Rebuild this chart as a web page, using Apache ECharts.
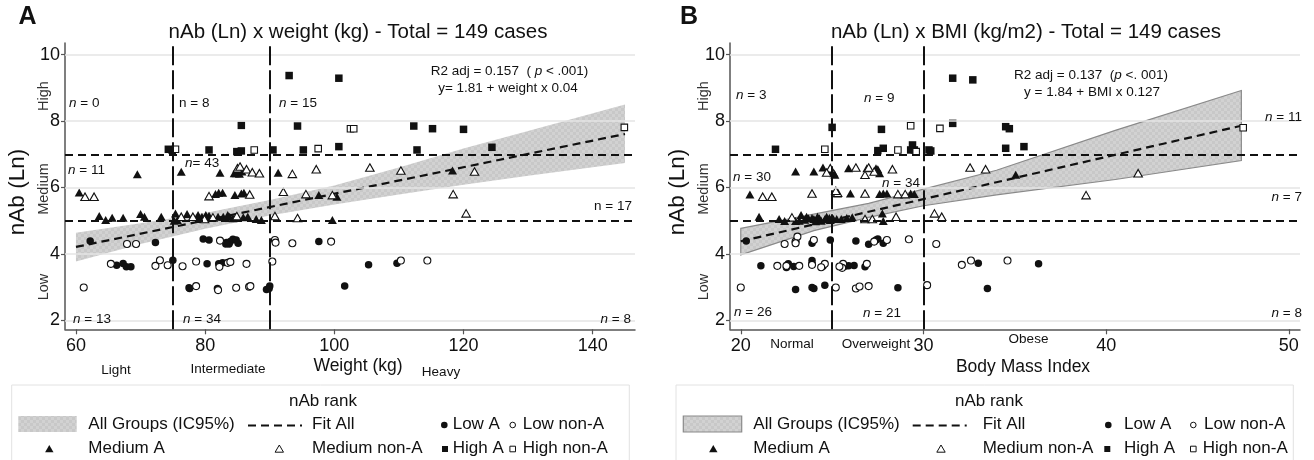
<!DOCTYPE html>
<html>
<head>
<meta charset="utf-8">
<script src="https://cdn.jsdelivr.net/npm/echarts@6/dist/echarts.min.js"></script>
<style>
html,body{margin:0;padding:0;background:#fff;}
#chart{width:1314px;height:460px;}
</style>
</head>
<body>
<div id="chart"></div>
<script>
// ---------------- DATA ----------------
// Panel A: nAb (Ln) vs weight (kg)
const weightTicks = [60, 80, 100, 120, 140];
const nAbTicks = [2, 4, 6, 8, 10];
const weightCuts = [75, 90];
const nAbCuts = [5, 7];

const weightLowA = [[62.2,4.39],[66.3,3.66],[67.3,3.71],[67.8,3.61],[68.5,3.61],[72.3,4.34],
  [75.0,3.81],[77.5,2.98],[77.6,2.96],[79.7,4.45],[80.6,4.42],[80.3,3.70],[81.9,2.96],[82.1,3.70],
  [82.7,3.73],[83.3,4.34],[83.7,4.30],[83.9,4.37],[84.3,4.44],[84.8,4.42],[83.2,4.30],[85.1,4.32],
  [89.5,2.93],[89.9,2.96],[90.0,3.03],[97.6,4.37],[101.6,3.03],[105.3,3.67],[109.7,3.72]];
const weightLowNonA = [[61.2,2.99],[65.4,3.70],[67.9,4.30],[69.3,4.30],[72.3,3.64],[73.0,3.81],[74.2,3.66],
  [76.5,3.63],[78.6,3.03],[78.6,3.77],[82.0,2.91],[82.3,4.40],[82.2,3.61],[83.5,3.73],[83.9,3.76],
  [84.8,2.98],[86.4,3.70],[86.8,3.01],[87.0,3.03],[90.4,3.77],[90.8,4.42],[90.9,4.34],
  [93.5,4.32],[99.5,4.37],[110.3,3.80],[114.4,3.80]];
const weightMedA = [[60.5,5.85],[63.6,5.14],[64.6,5.02],[65.6,5.09],[67.3,5.09],[69.5,6.40],[70.0,5.20],[70.6,5.12],[73.2,5.12],
  [75.4,5.22],[76.3,6.47],[77.2,5.20],[78.9,5.17],[79.5,5.12],[80.1,5.17],[80.6,5.15],[81.6,5.80],[82.1,5.84],
  [82.7,5.84],[82.3,6.44],[82.0,5.12],[82.8,5.12],[83.8,5.12],[84.3,5.07],[84.5,6.43],[84.8,6.43],[85.2,6.53],
  [85.6,5.82],[86.0,5.84],[85.9,5.10],[88.7,5.02],[85.3,6.41],[75.7,5.02],[75.2,5.00],[83.5,5.17],[86.6,5.12],
  [79.1,5.05],[87.9,5.05],[85.7,6.48],[84.6,5.77],
  [91.3,6.44],[97.6,5.77],[100.4,5.72],[99.7,5.02],[118.3,6.51]];
const weightMedNonA = [[61.4,5.72],[62.8,5.72],
  [76.3,5.12],[78.1,5.12],[80.6,5.74],[85.0,6.58],[85.4,6.63],[86.9,5.79],[86.4,6.55],[87.3,6.46],[88.4,6.43],
  [84.9,5.14],[81.2,5.10],[79.9,5.05],
  [93.5,6.41],[97.2,6.55],[90.8,5.14],[92.1,5.87],[94.3,5.08],[95.6,5.80],[99.7,5.77],[105.5,6.60],
  [110.3,6.51],[121.7,6.48],[118.4,5.80],[120.4,5.22]];
const weightHighA = [[74.3,7.15],[74.9,7.12],[80.6,7.13],[85.6,7.87],[84.9,7.08],[85.6,7.10],[90.5,7.13],
  [93.0,9.37],[94.3,7.85],[95.2,7.13],[100.7,9.29],[100.7,7.23],[112.3,7.85],[115.2,7.77],[120.0,7.75],
  [112.8,7.13],[124.4,7.21]];
const weightHighNonA = [[75.4,7.15],[87.6,7.13],[97.5,7.17],[102.5,7.77],[103.0,7.77],[144.9,7.81]];
const weightFit = [[60,4.21],[145,7.61]];
const weightBandX = [60, 70, 80, 90, 100, 110, 120, 130, 145];
const weightBandUp = [4.64, 4.92, 5.23, 5.62, 6.06, 6.60, 7.17, 7.70, 8.50];
const weightBandLo = [3.77, 4.30, 4.76, 5.16, 5.49, 5.79, 6.08, 6.35, 6.74];

// Panel B: nAb (Ln) vs BMI
const bmiTicks = [20, 30, 40, 50];
const bmiCuts = [25, 30];
const bmiLowA = [[20.3,4.39],[21.1,3.64],[22.5,3.59],[22.6,3.70],[23.0,2.93],[23.9,4.32],[23.9,3.80],[23.9,3.70],
  [23.9,2.99],[24.0,2.96],[24.5,3.63],[24.6,3.06],[24.9,4.42],[22.9,3.62],
  [25.7,3.63],[25.9,3.64],[26.3,4.39],[26.8,3.61],[27.0,4.29],[27.4,4.42],[27.5,4.45],[27.8,4.32],[28.6,2.98],[26.2,3.65],
  [33.0,3.72],[33.5,2.96],[36.3,3.70]];
const bmiLowNonA = [[20.0,2.99],[22.0,3.64],[22.4,4.30],[23.0,4.37],[23.1,4.52],[23.0,4.32],[23.2,3.64],[24.0,4.42],
  [23.9,3.67],[24.6,3.70],[22.5,3.64],[24.4,3.60],
  [25.2,2.99],[25.6,3.70],[25.55,3.58],[26.3,2.96],[26.9,3.70],[27.0,3.03],[27.3,4.37],[28.0,4.42],[29.2,4.44],
  [25.4,3.62],[26.5,3.02],
  [30.2,3.06],[30.7,4.30],[32.1,3.67],[32.6,3.80],[34.6,3.80]];
const bmiMedA = [[20.5,5.79],[21.0,5.12],[22.1,5.05],[22.4,4.99],[23.0,4.99],[23.3,5.17],[23.7,5.07],[24.0,5.05],
  [24.2,5.12],[24.3,5.07],[24.7,5.12],[24.9,5.02],[23.0,6.48],[24.0,6.48],[24.5,6.60],[24.8,6.48],[23.5,5.03],
  [23.9,5.08],[24.1,4.98],[24.4,5.00],[24.6,5.04],[23.6,5.12],[24.85,5.08],[23.2,5.00],
  [25.1,6.43],[25.9,6.58],[26.9,6.58],[27.4,6.58],[27.5,6.55],[27.6,6.43],[26.0,5.82],[25.3,5.82],[27.8,5.82],
  [28.0,5.82],[29.3,5.82],[29.5,5.80],[25.07,5.05],[25.25,5.05],[25.5,5.05],[25.8,5.08],[27.75,5.22],[27.8,4.99],
  [25.15,6.38],[26.1,5.10],[27.6,5.80],
  [35.05,6.38]];
const bmiMedNonA = [[21.2,5.72],[21.7,5.72],[24.9,6.58],[23.9,5.82],[22.8,5.10],[24.7,6.45],
  [25.3,5.84],[26.3,6.60],[26.8,6.38],[27.3,6.48],[28.3,6.55],[26.8,5.82],[28.6,5.80],[29.0,5.80],[26.8,5.05],
  [27.2,5.05],[28.5,5.12],[25.2,5.90],[27.0,6.60],
  [30.6,5.22],[31.0,5.12],[32.55,6.60],[33.4,6.55],[38.9,5.77],[41.75,6.43]];
const bmiHighA = [[21.9,7.15],[25.0,7.81],[27.7,7.75],[27.5,7.11],[27.8,7.18],[29.4,7.28],[29.3,7.13],[29.5,7.13],
  [30.3,7.13],[30.4,7.10],[31.6,9.29],[32.7,9.24],[31.6,7.93],[34.5,7.83],[34.7,7.77],[34.5,7.18],[35.5,7.23]];
const bmiHighNonA = [[24.6,7.15],[29.3,7.86],[28.6,7.13],[29.6,7.08],[30.9,7.78],[47.5,7.80]];
const bmiFit = [[20,4.38],[47.4,7.86]];
const bmiBandX = [20, 24, 27, 30, 34, 40.5, 47.4];
const bmiBandUp = [4.77, 5.20, 5.52, 5.95, 6.52, 7.72, 8.92];
const bmiBandLo = [3.97, 4.70, 5.10, 5.45, 5.78, 6.24, 6.81];

// ---------------- STYLE ----------------
const FF = "'Liberation Sans', Arial, Helvetica, sans-serif";
const INK = '#111';

function makePattern() {
  const c = document.createElement('canvas');
  c.width = 6; c.height = 6;
  const g = c.getContext('2d');
  g.fillStyle = '#c8c8c8'; g.fillRect(0, 0, 6, 6);
  g.fillStyle = '#d2d2d2'; g.fillRect(0, 0, 3, 3); g.fillRect(3, 3, 3, 3);
  return c;
}
const patternCanvas = makePattern();
const bandFill = { image: patternCanvas, repeat: 'repeat' };

const chart = echarts.init(document.getElementById('chart'), null, { renderer: 'canvas' });

function xAxisDef(idx, min, max, ticks) {
  return {
    gridIndex: idx, type: 'value', min: min, max: max,
    axisLine: { show: true, onZero: false, lineStyle: { color: '#555', width: 1.5 } },
    axisTick: { show: true, customValues: ticks, length: 5, lineStyle: { color: '#555', width: 1.2 } },
    axisLabel: { customValues: ticks, fontSize: 18, color: INK, fontFamily: FF, margin: 8 },
    splitLine: { show: false }
  };
}
function yAxisDef(idx) {
  return {
    gridIndex: idx, type: 'value', min: 1.73, max: 10.35,
    axisLine: { show: true, onZero: false, lineStyle: { color: '#555', width: 1.5 } },
    axisTick: { show: true, customValues: nAbTicks, length: 4, lineStyle: { color: '#555', width: 1.2 } },
    axisLabel: { customValues: nAbTicks, fontSize: 18, color: INK, fontFamily: FF, margin: 5 },
    splitLine: { show: false }
  };
}

function bandSeries(idx, bx, bu, bl, stroke) {
  return {
    type: 'custom', xAxisIndex: idx, yAxisIndex: idx, z: 1, silent: true,
    data: [[bx[0], bu[0]]],
    renderItem: function (params, api) {
      const pts = [];
      for (let i = 0; i < bx.length; i++) pts.push(api.coord([bx[i], bu[i]]));
      for (let i = bx.length - 1; i >= 0; i--) pts.push(api.coord([bx[i], bl[i]]));
      return {
        type: 'polygon', shape: { points: pts },
        style: { fill: bandFill, stroke: stroke || null, lineWidth: stroke ? 1.2 : 0 }
      };
    }
  };
}

function gridLineSeries(idx, fit) {
  return {
    type: 'line', xAxisIndex: idx, yAxisIndex: idx, z: 0, silent: true,
    data: fit, showSymbol: false, lineStyle: { width: 0, opacity: 0 },
    markLine: {
      silent: true, symbol: ['none', 'none'], animation: false, label: { show: false },
      lineStyle: { color: '#e4e4e4', width: 1.5, type: 'solid' },
      data: nAbTicks.map(v => ({ yAxis: v }))
    }
  };
}

function refLineSeries(idx, fit, xcuts) {
  const data = nAbCuts.map(v => ({ yAxis: v, lineStyle: { color: INK, width: 2, type: [8, 5] } }))
    .concat(xcuts.map(v => ({ xAxis: v, lineStyle: { color: INK, width: 2, type: [19, 5] } })));
  return {
    type: 'line', xAxisIndex: idx, yAxisIndex: idx, z: 2, silent: true,
    data: fit, showSymbol: false, lineStyle: { width: 0, opacity: 0 },
    markLine: { silent: true, symbol: ['none', 'none'], animation: false, label: { show: false }, data: data }
  };
}

function fitSeries(idx, fit) {
  return {
    type: 'line', xAxisIndex: idx, yAxisIndex: idx, z: 3, silent: true,
    data: fit, showSymbol: false, symbol: 'none',
    lineStyle: { color: INK, width: 2.2, type: [8, 5] }
  };
}

function pointSeries(idx, data, symbol, size, open) {
  return {
    type: 'scatter', xAxisIndex: idx, yAxisIndex: idx, z: 4, silent: true,
    data: data, symbol: symbol, symbolSize: size,
    itemStyle: open ? { color: '#fff', borderColor: INK, borderWidth: 1.1, opacity: 1 }
                    : { color: INK, opacity: 1 }
  };
}

function panelSeries(idx, d) {
  return [
    gridLineSeries(idx, d.fit),
    bandSeries(idx, d.bx, d.bu, d.bl, d.bandStroke),
    refLineSeries(idx, d.fit, d.xcuts),
    fitSeries(idx, d.fit),
    pointSeries(idx, d.lowA, 'circle', 7.5, false),
    pointSeries(idx, d.lowN, 'circle', 7, true),
    pointSeries(idx, d.medA, 'triangle', [9, 8], false),
    pointSeries(idx, d.medN, 'triangle', [8.5, 7.5], true),
    pointSeries(idx, d.highA, 'rect', 7.5, false),
    pointSeries(idx, d.highN, 'rect', 6.5, true)
  ];
}

// ---------------- TEXT HELPERS ----------------
function tok(size, italic, weight, color) {
  return { fontSize: size, fontFamily: FF, fontStyle: italic ? 'italic' : 'normal',
           fontWeight: weight || 'normal', fill: color || INK, color: color || INK };
}
function txt(x, y, text, size, opts) {
  opts = opts || {};
  const al = opts.align || 'left';
  return {
    type: 'text', x: x, y: y, rotation: opts.rotation || 0, silent: true, z: 100,
    style: {
      text: text, x: 0, y: 0,
      fontSize: size, fontFamily: FF, fontWeight: opts.weight || 'normal',
      fontStyle: opts.italic ? 'italic' : 'normal',
      fill: opts.color || INK,
      align: al, textAlign: al, verticalAlign: 'middle', textVerticalAlign: 'middle',
      rich: { i: tok(size, true, null, opts.color), r: tok(size, false, null, opts.color) }
    }
  };
}
function nLab(x, y, rest, italicN, align) {
  const t = (italicN ? '{i|n}' : '{r|n}') + '{r|' + rest + '}';
  return txt(x, y, t, 13.5, { align: align || 'left' });
}

// legend block
function legend(L) {
  const g = [];
  g.push({ type: 'rect', silent: true, z: 90, shape: { x: L.boxL, y: 385, width: L.boxR - L.boxL, height: 80 },
           style: { fill: '#fff', stroke: '#e2e2e2', lineWidth: 1 } });
  g.push(txt(L.title, 401, 'nAb rank', 17, { align: 'center' }));
  const r1 = 424, r2 = 448;
  g.push({ type: 'rect', silent: true, z: 100, shape: { x: L.rect[0], y: 416, width: L.rect[1] - L.rect[0], height: 16 },
           style: { fill: bandFill, stroke: L.rectStroke || null, lineWidth: L.rectStroke ? 1.2 : 0 } });
  g.push(txt(L.t1, r1, 'All Groups (IC95%)', 17));
  g.push({ type: 'line', silent: true, z: 100, shape: { x1: L.dash[0], y1: r1 + 1.5, x2: L.dash[1], y2: r1 + 1.5 },
           style: { stroke: INK, lineWidth: 2, lineDash: [8, 5] } });
  g.push(txt(L.t2, r1, 'Fit All', 17));
  g.push({ type: 'circle', silent: true, z: 100, shape: { cx: L.c1, cy: r1 + 1, r: 3.3 }, style: { fill: INK } });
  g.push(txt(L.t3, r1, 'Low A', 17));
  g.push({ type: 'circle', silent: true, z: 100, shape: { cx: L.c2, cy: r1 + 1, r: 2.8 },
           style: { fill: '#fff', stroke: INK, lineWidth: 1 } });
  g.push(txt(L.t4, r1, 'Low non-A', 17));
  const tri = (cx, cy) => [[cx, cy - 4], [cx + 4.2, cy + 3.2], [cx - 4.2, cy + 3.2]];
  g.push({ type: 'polygon', silent: true, z: 100, shape: { points: tri(L.tr1, r2 + 1) }, style: { fill: INK } });
  g.push(txt(L.t1, r2, 'Medium A', 17));
  g.push({ type: 'polygon', silent: true, z: 100, shape: { points: tri(L.tr2, r2 + 1) },
           style: { fill: '#fff', stroke: INK, lineWidth: 1 } });
  g.push(txt(L.t2, r2, 'Medium non-A', 17));
  g.push({ type: 'rect', silent: true, z: 100, shape: { x: L.s1 - 3, y: r2 - 2, width: 6, height: 6 }, style: { fill: INK } });
  g.push(txt(L.t3, r2, 'High A', 17));
  g.push({ type: 'rect', silent: true, z: 100, shape: { x: L.s2 - 2.8, y: r2 - 1.8, width: 5.6, height: 5.6 },
           style: { fill: '#fff', stroke: INK, lineWidth: 1 } });
  g.push(txt(L.t4b || L.t4, r2, 'High non-A', 17));
  return g;
}

const graphics = [].concat(
  // Panel letters and titles
  [txt(27.5, 17, 'A', 25, { align: 'center', weight: 'bold' }),
   txt(689, 17, 'B', 25, { align: 'center', weight: 'bold' }),
   txt(358, 32, 'nAb (Ln) x weight (kg) - Total = 149 cases', 20.5, { align: 'center' }),
   txt(1026, 32, 'nAb (Ln) x BMI (kg/m2) - Total = 149 cases', 20.5, { align: 'center' }),
   // y-axis names
   txt(18, 192, 'nAb (Ln)', 22.5, { align: 'center', rotation: Math.PI / 2 }),
   txt(678, 192, 'nAb (Ln)', 22.5, { align: 'center', rotation: Math.PI / 2 }),
   txt(43.5, 96, 'High', 14.5, { align: 'center', rotation: Math.PI / 2, color: '#333' }),
   txt(43.5, 189, 'Medium', 14.5, { align: 'center', rotation: Math.PI / 2, color: '#333' }),
   txt(43.5, 287, 'Low', 14.5, { align: 'center', rotation: Math.PI / 2, color: '#333' }),
   txt(703.5, 96, 'High', 14.5, { align: 'center', rotation: Math.PI / 2, color: '#333' }),
   txt(703.5, 189, 'Medium', 14.5, { align: 'center', rotation: Math.PI / 2, color: '#333' }),
   txt(703.5, 287, 'Low', 14.5, { align: 'center', rotation: Math.PI / 2, color: '#333' }),
   // x-axis names / categories
   txt(116, 370, 'Light', 13.5, { align: 'center' }),
   txt(228, 369, 'Intermediate', 13.5, { align: 'center' }),
   txt(358, 366, 'Weight (kg)', 17.5, { align: 'center' }),
   txt(441, 372, 'Heavy', 13.5, { align: 'center' }),
   txt(792, 344, 'Normal', 13.5, { align: 'center' }),
   txt(876, 344, 'Overweight', 13.5, { align: 'center' }),
   txt(1028.5, 339, 'Obese', 13.5, { align: 'center' }),
   txt(1023, 367, 'Body Mass Index', 17.5, { align: 'center' }),
   // regression texts
   txt(509.5, 71, '{r|R2 adj = 0.157  ( }{i|p}{r| < .001)}', 13.5, { align: 'center' }),
   txt(508, 88, 'y= 1.81 + weight x 0.04', 13.5, { align: 'center' }),
   txt(1091, 75, '{r|R2 adj = 0.137  (}{i|p}{r| <. 001)}', 13.5, { align: 'center' }),
   txt(1092, 92, 'y = 1.84 + BMI x 0.127', 13.5, { align: 'center' }),
   // counts panel A
   nLab(69, 103, ' = 0', true), nLab(179, 103, ' = 8', false), nLab(279, 103, ' = 15', true),
   nLab(68, 170, ' = 11', true), nLab(185, 163, '= 43', true), nLab(632, 206, ' = 17', false, 'right'),
   nLab(73, 319, ' = 13', true), nLab(183, 319, ' = 34', true), nLab(631, 319, ' = 8', true, 'right'),
   // counts panel B
   nLab(736, 95, ' = 3', true), nLab(864, 98, ' = 9', true), nLab(1302, 117, ' = 11', true, 'right'),
   nLab(733, 177, ' = 30', true), nLab(882, 183, ' = 34', true), nLab(1302, 197, ' = 7', true, 'right'),
   nLab(734, 312, ' = 26', true), nLab(863, 313, ' = 21', true), nLab(1302, 313, ' = 8', true, 'right')],
  legend({ boxL: 11.7, boxR: 629.3, title: 323, rect: [18.3, 76.7], t1: 88.3, dash: [248, 302], t2: 312,
           c1: 444.3, t3: 452.7, c2: 512.7, t4: 522.7, tr1: 49.3, tr2: 279.3, s1: 445, s2: 512.7 }),
  legend({ boxL: 676, boxR: 1293.3, title: 989, rect: [683.3, 741.7], rectStroke: '#8a8a8a', t1: 753.3,
           dash: [912.7, 966.7], t2: 982.7, c1: 1108.3, t3: 1124, c2: 1193.3, t4: 1204, t4b: 1202.7,
           tr1: 713.3, tr2: 941, s1: 1107.3, s2: 1193.3 })
);

const option = {
  animation: false,
  backgroundColor: '#fff',
  grid: [
    { left: 65, top: 43, width: 570, height: 286.3, containLabel: false },
    { left: 730, top: 43, width: 570, height: 286.3, containLabel: false }
  ],
  xAxis: [xAxisDef(0, 58.3, 146.55, weightTicks), xAxisDef(1, 19.41, 50.61, bmiTicks)],
  yAxis: [yAxisDef(0), yAxisDef(1)],
  series: [].concat(
    panelSeries(0, { fit: weightFit, bx: weightBandX, bu: weightBandUp, bl: weightBandLo, bandStroke: null,
                     xcuts: weightCuts, lowA: weightLowA, lowN: weightLowNonA, medA: weightMedA,
                     medN: weightMedNonA, highA: weightHighA, highN: weightHighNonA }),
    panelSeries(1, { fit: bmiFit, bx: bmiBandX, bu: bmiBandUp, bl: bmiBandLo, bandStroke: '#8a8a8a',
                     xcuts: bmiCuts, lowA: bmiLowA, lowN: bmiLowNonA, medA: bmiMedA,
                     medN: bmiMedNonA, highA: bmiHighA, highN: bmiHighNonA })
  ),
  graphic: graphics
};
chart.setOption(option);
</script>
</body>
</html>
